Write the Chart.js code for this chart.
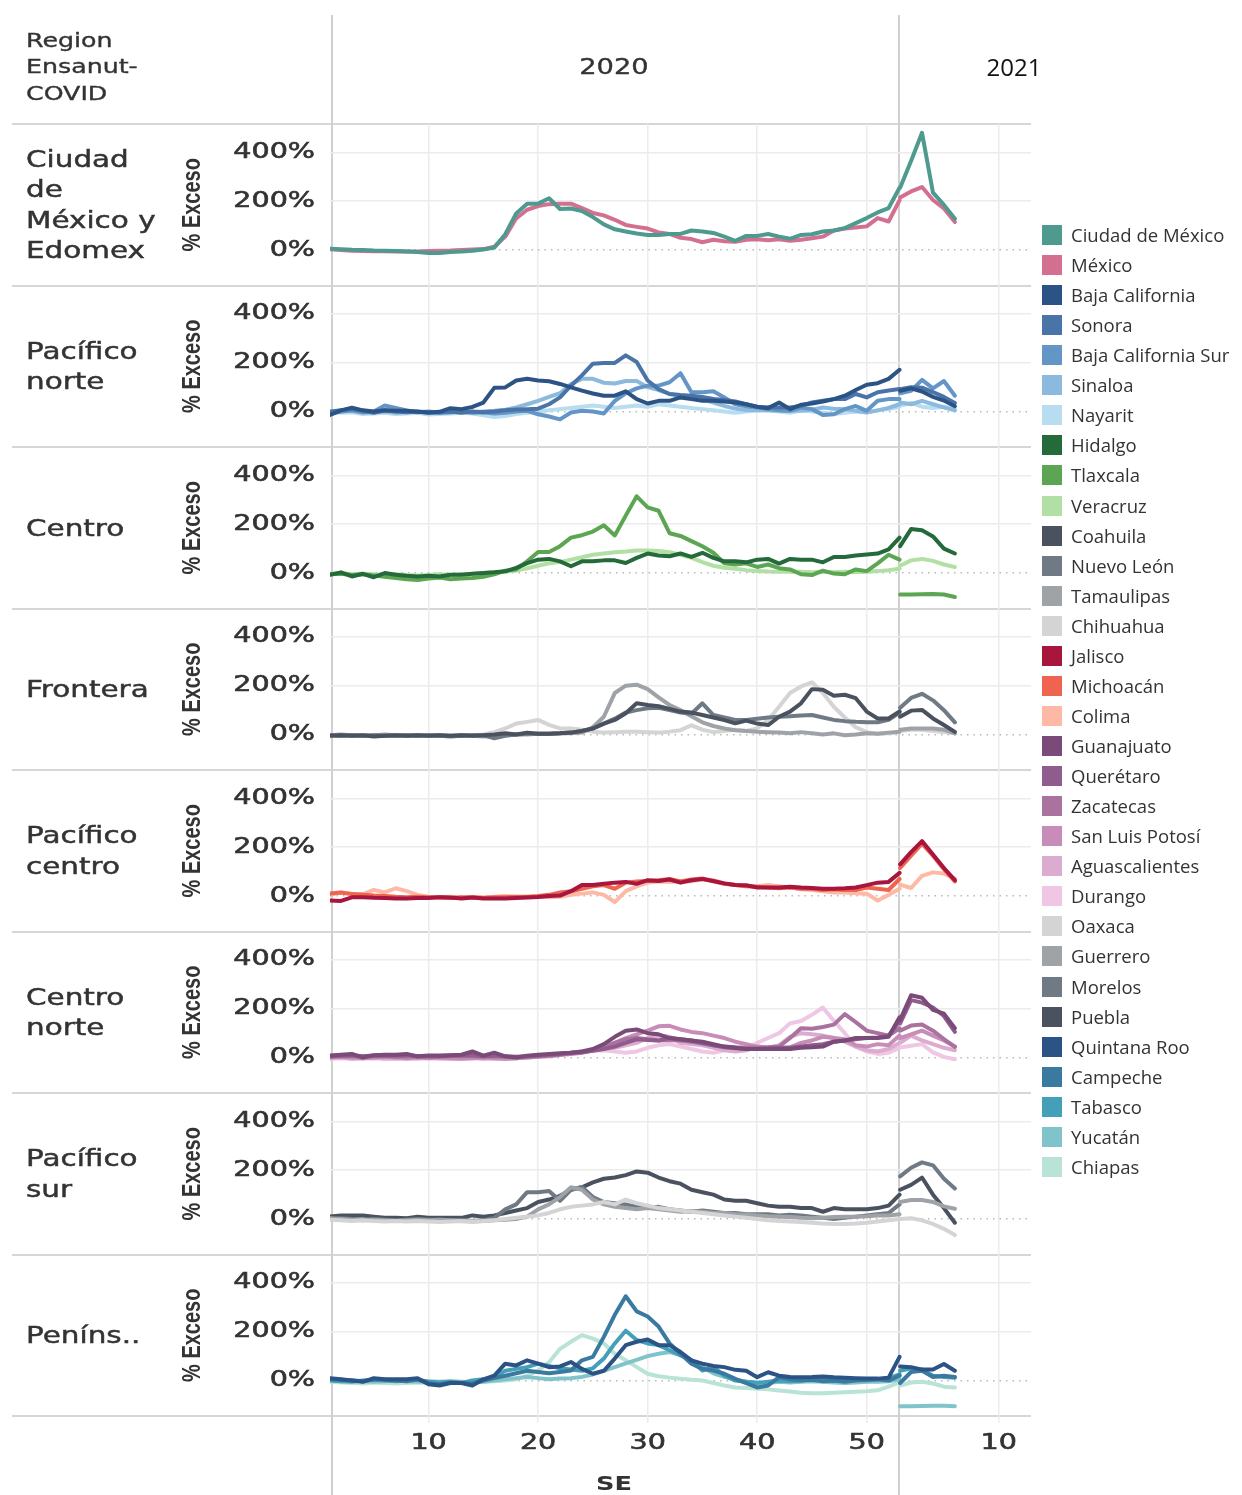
<!DOCTYPE html>
<html><head><meta charset="utf-8">
<script src="https://cdn.jsdelivr.net/npm/chart.js@4.4.1/dist/chart.umd.min.js"></script>
<style>
html,body{margin:0;padding:0;background:#fff;}
#wrap{position:relative;width:1242px;height:1495px;overflow:hidden;background:#fff;}
.hl{position:absolute;left:12px;width:1019px;height:2px;background:#d6d6d6;}
.vl{position:absolute;top:15px;height:1480px;width:2px;background:#d0d0d0;}
canvas{position:absolute;left:0;top:0;}
.txt{position:absolute;color:#333;white-space:nowrap;font-family:'DejaVu Sans',sans-serif;-webkit-text-stroke:0.35px #333;}
.rowlab{position:absolute;left:26px;height:161.5px;display:flex;align-items:center;}
.rowlab div{transform:scaleX(1.28);transform-origin:left center;font-size:23px;line-height:30.5px;color:#333;font-family:'DejaVu Sans',sans-serif;white-space:nowrap;-webkit-text-stroke:0.45px #333;}
.leg{position:absolute;left:1042px;height:20px;}
.leg .sw{position:absolute;left:0;top:0;width:20px;height:20px;}
.leg .lt{position:absolute;left:29px;top:-2px;font-family:'Open Sans',sans-serif;font-size:18.5px;line-height:24px;color:#333;white-space:nowrap;}
</style></head>
<body>
<div id="wrap">
  <div id="lines"></div>
  <canvas id="c" width="1242" height="1495"></canvas>
  <div class="txt" style="left:26px;top:26.75px;font-size:19px;line-height:26.5px;transform:scaleX(1.33);transform-origin:left top;">Region<br>Ensanut-<br>COVID</div>
  <div class="txt" style="left:514px;width:200px;text-align:center;top:54px;font-size:21px;line-height:26px;transform:scaleX(1.3);transform-origin:center;">2020</div>
  <div class="txt" style="left:954px;width:120px;text-align:center;top:52px;font-family:'Open Sans',sans-serif;font-size:24px;line-height:30px;color:#111;-webkit-text-stroke:0;">2021</div>
  <div class="txt" style="left:564px;width:100px;text-align:center;top:1470px;font-size:20px;line-height:26px;font-weight:bold;transform:scaleX(1.28);transform-origin:center;-webkit-text-stroke:0;">SE</div>
  <div id="rowlabels"></div>
  <div id="legend"></div>
</div>
<script>
// ---------- DATA ----------
const regionNames = [["Ciudad","de","México y","Edomex"],["Pacífico","norte"],["Centro"],["Frontera"],["Pacífico","centro"],["Centro","norte"],["Pacífico","sur"],["Peníns.."]];
const weeks2020 = [1,2,3,4,5,6,7,8,9,10,11,12,13,14,15,16,17,18,19,20,21,22,23,24,25,26,27,28,29,30,31,32,33,34,35,36,37,38,39,40,41,42,43,44,45,46,47,48,49,50,51,52,53];
const weeks2021 = [1,2,3,4,5,6];
const xTickWeeks2020 = [10,20,30,40,50];
const xTickWeeks2021 = [10];
const yTickValues = [0,200,400];

const stateNames = ["Ciudad de México","México","Baja California","Sonora","Baja California Sur","Sinaloa","Nayarit","Hidalgo","Tlaxcala","Veracruz","Coahuila","Nuevo León","Tamaulipas","Chihuahua","Jalisco","Michoacán","Colima","Guanajuato","Querétaro","Zacatecas","San Luis Potosí","Aguascalientes","Durango","Oaxaca","Guerrero","Morelos","Puebla","Quintana Roo","Campeche","Tabasco","Yucatán","Chiapas"];
const stateRegion = [0,0,1,1,1,1,1,2,2,2,3,3,3,3,4,4,4,5,5,5,5,5,5,6,6,6,6,7,7,7,7,7];
const stateColors = ["#4f9a8f","#d4708f","#2c5385","#4a74a7","#6396c6","#8cb9de","#b8dcf0","#246a3a","#5ba553","#b2dfa3","#4b525f","#6f7a84","#9fa3a7","#d4d4d4","#a8163d","#ee6450","#fdb9a6","#7a4a78","#8f5c8d","#a9729f","#c78db8","#dcabd0","#efc6e4","#d4d4d4","#9fa3a7","#6f7a84","#4b525f","#2c5385","#3a7aa0","#44a0b9","#80c3cb","#b8e3d6"];

const ciudadDeMexico2020 = [5,3,1,0,-2,-3,-4,-6,-8,-12,-12,-8,-6,-3,2,10,65,150,190,190,212,168,170,160,135,105,85,76,68,62,62,66,66,80,76,70,55,38,58,58,66,55,46,62,65,76,80,90,110,131,154,172,255];
const ciudadDeMexico2021 = [255,365,480,235,185,128];
const mexico2020 = [3,0,-3,-4,-5,-5,-6,-6,-6,-4,-3,-2,0,2,4,14,55,130,165,180,188,190,190,172,152,142,124,103,95,88,72,66,50,45,32,42,36,34,42,44,40,44,38,42,48,55,80,88,92,97,131,117,204];
const mexico2021 = [215,240,258,205,170,115];
const bajaCalifornia2020 = [-14,5,16,5,0,5,3,3,-1,-4,-1,14,10,19,37,97,99,127,134,127,124,113,99,86,74,65,65,83,51,33,44,44,58,51,44,44,41,37,30,20,14,37,10,28,33,41,51,65,88,110,116,134,171];
const bajaCalifornia2021 = [85,95,82,60,45,22];
const sonora2020 = [0,5,10,3,-5,5,0,-3,0,-5,-3,0,-5,0,-3,0,5,8,10,12,30,58,106,148,196,199,199,230,203,127,92,72,68,65,60,52,47,41,30,19,18,17,17,23,37,44,51,51,72,58,79,86,92];
const sonora2021 = [92,100,98,80,60,35];
const bajaCaliforniaSur2020 = [-5,0,5,-3,0,25,15,5,-3,0,-5,-3,0,-5,-3,-8,-5,0,3,-11,-20,-32,-4,3,0,-8,44,75,95,106,106,120,157,79,79,83,58,30,22,17,10,5,3,17,10,-14,-11,10,23,3,44,51,51];
const bajaCaliforniaSur2021 = [75,85,130,95,125,65];
const sinaloa2020 = [-3,0,3,-5,-3,0,-5,-3,0,-3,-5,-3,0,-3,0,3,8,17,30,44,60,75,113,134,134,118,115,125,125,100,88,72,65,58,51,37,23,12,6,6,5,3,3,3,8,17,12,10,3,-4,5,15,30];
const sinaloa2021 = [37,30,44,30,17,5];
const nayarit2020 = [-8,-5,-3,-10,-8,-5,-10,-8,-5,-12,-10,-8,-5,-8,-15,-22,-18,-10,-5,0,5,10,15,20,25,20,15,20,25,20,30,25,20,15,10,5,0,-5,0,3,5,0,-5,5,0,-5,-10,-5,0,-3,5,10,20];
const nayarit2021 = [25,35,20,15,20,10];
const hidalgo2020 = [-7,3,-14,-3,-17,0,-7,-11,-14,-11,-14,-7,-7,-3,0,3,7,21,41,55,58,48,28,48,48,52,52,41,62,80,72,69,80,66,83,62,48,48,44,55,58,39,58,55,55,44,66,66,72,76,80,97,145];
const hidalgo2021 = [110,180,175,150,100,80];
const tlaxcala2020 = [-5,-3,-8,-5,-10,-15,-20,-25,-28,-22,-18,-25,-22,-20,-15,-5,10,15,48,86,86,110,145,155,170,196,154,235,314,269,255,163,152,131,110,83,40,35,40,25,35,20,15,-5,-8,10,-2,-5,15,8,40,75,55];
const tlaxcala2021 = [-88,-88,-87,-86,-88,-98];
const veracruz2020 = [-3,0,-5,-3,-5,-8,-5,-8,-10,-8,-5,-8,-5,-3,0,3,5,10,20,30,40,45,55,65,75,80,85,88,92,92,90,85,75,62,45,30,22,18,12,8,6,5,5,5,3,5,3,5,3,5,8,12,18];
const veracruz2021 = [30,52,58,50,35,25];
const coahuila2020 = [-5,-3,-5,-3,-8,-5,-3,-5,-3,-5,-3,-5,-3,-5,-3,0,5,0,8,3,3,5,8,15,25,45,60,87,128,121,116,105,94,90,80,70,59,46,57,45,39,73,94,128,186,183,159,163,149,94,66,66,95];
const coahuila2021 = [73,98,101,66,39,11];
const nuevoLeon2020 = [-3,-5,-3,-5,-3,-5,-5,-3,-5,-3,-5,-8,-5,-3,-3,-15,-5,0,3,3,3,5,8,15,25,45,65,90,100,108,110,100,90,85,128,80,70,60,60,65,70,73,75,78,80,70,60,55,52,50,50,60,90];
const nuevoLeon2021 = [110,150,167,140,100,50];
const tamaulipas2020 = [-3,0,-3,-5,-3,0,-3,-5,-3,-5,-3,-5,-3,-5,-8,-5,-3,0,0,3,3,5,5,8,30,73,170,200,204,186,152,121,100,75,50,35,25,18,15,12,10,8,5,10,5,0,5,-3,0,5,3,8,12];
const tamaulipas2021 = [20,25,25,25,20,5];
const chihuahua2020 = [-3,-5,-3,-5,-3,-5,-3,-5,-3,-5,-3,-5,-3,-5,0,10,25,45,52,60,40,25,25,20,12,8,10,12,12,10,8,12,18,38,20,10,15,20,15,25,60,114,170,197,214,170,114,70,30,10,3,5,10];
const chihuahua2021 = [15,20,20,15,10,5];
const jalisco2020 = [-18,-20,-5,-5,-7,-8,-10,-10,-8,-8,-5,-6,-10,-6,-10,-10,-10,-8,-6,-4,0,2,20,45,45,50,55,58,50,65,62,68,55,65,70,62,52,45,44,35,35,35,38,35,33,30,30,32,35,45,55,58,95];
const jalisco2021 = [130,180,225,170,115,65];
const michoacan2020 = [10,15,8,5,2,0,-3,-5,-3,-5,-5,-8,-5,-5,-8,-5,-5,-3,-3,0,5,15,20,30,40,45,30,55,60,62,65,70,60,68,72,60,50,45,40,38,35,32,35,30,30,25,28,25,25,35,30,25,70];
const michoacan2021 = [115,165,215,165,110,60];
const colima2020 = [5,15,10,8,25,15,32,20,5,-3,-5,-3,-8,-5,-5,-3,0,-3,-5,-3,-5,-3,5,10,15,5,-25,20,40,55,60,58,62,60,70,65,52,45,42,40,45,40,35,28,25,20,15,15,12,10,-18,5,30];
const colima2021 = [47,33,83,97,92,72];
const guanajuato2020 = [8,12,15,0,10,12,12,15,5,8,8,10,12,25,8,20,5,0,8,12,15,18,20,25,35,55,85,110,115,100,95,80,75,70,65,55,45,40,35,35,35,35,35,40,42,45,65,70,80,80,80,85,165];
const guanajuato2021 = [155,255,245,195,180,120];
const queretaro2020 = [5,8,10,5,8,10,8,10,5,5,5,8,10,10,5,8,5,3,5,8,12,15,20,22,28,35,45,60,75,72,70,80,75,70,60,50,42,38,35,35,38,40,40,45,50,55,65,70,75,80,82,90,150];
const queretaro2021 = [140,235,225,205,170,105];
const zacatecas2020 = [3,5,5,3,5,5,3,5,3,3,3,5,5,5,3,5,3,0,3,5,8,12,18,22,30,45,60,75,80,75,70,72,70,65,58,50,45,42,40,40,42,45,80,120,118,125,135,178,145,110,100,90,120];
const zacatecas2021 = [110,131,135,110,76,44];
const sanLuisPotosi2020 = [0,3,0,-3,0,3,0,-3,0,-3,0,-3,-5,-3,0,-3,-5,-3,0,3,5,10,15,20,30,40,60,80,95,110,128,130,115,105,100,90,80,65,55,45,40,38,42,60,70,85,80,75,50,45,55,50,90];
const sanLuisPotosi2021 = [80,95,110,90,70,45];
const aguascalientes2020 = [-3,0,-5,-3,0,-5,-3,-5,-3,0,-3,-5,-3,0,-5,-3,-5,-3,0,3,8,12,20,25,30,35,40,50,60,80,90,85,60,55,50,40,30,25,30,45,40,50,85,100,95,90,80,65,45,30,25,35,60];
const aguascalientes2021 = [60,90,70,55,40,30];
const durango2020 = [-5,-3,-5,-3,-5,-3,-5,-3,-5,-3,-5,-3,-5,-3,-5,-3,-5,-3,0,5,10,15,20,25,28,30,25,20,25,40,50,55,45,35,25,20,30,40,35,60,80,100,140,150,175,205,150,100,45,25,15,20,40];
const durango2021 = [41,48,55,21,3,-7];
const oaxaca2020 = [-3,-5,-8,-5,-8,-10,-8,-10,-8,-10,-12,-10,-8,-10,-8,-5,0,5,10,15,25,40,50,55,60,70,60,80,65,55,45,40,35,30,25,20,15,10,5,0,-5,-8,-10,-12,-15,-18,-20,-20,-18,-15,-10,-5,0];
const oaxaca2021 = [0,3,-5,-20,-40,-65];
const guerrero2020 = [3,0,-3,-5,-3,-5,-8,-5,-3,-5,-3,-5,-8,-10,-8,-5,-3,0,10,40,60,90,130,120,80,60,50,45,40,45,40,35,30,32,30,25,25,20,18,15,12,10,8,5,3,5,8,10,10,12,15,15,20];
const guerrero2021 = [70,78,78,70,52,42];
const morelos2020 = [0,3,0,-3,0,-3,-5,-3,0,-3,-3,-5,-3,-8,-5,5,40,60,110,110,115,75,120,131,90,70,65,60,50,45,50,40,35,30,35,30,25,25,20,20,20,15,18,15,10,5,0,5,10,15,20,25,60];
const morelos2021 = [175,210,232,220,165,125];
const puebla2020 = [10,15,15,15,10,5,5,3,10,5,5,5,5,15,10,15,25,35,45,70,80,95,120,130,150,165,170,180,195,190,170,155,145,120,110,100,80,75,75,65,55,50,50,45,45,30,45,40,40,40,45,55,100];
const puebla2021 = [120,140,170,100,45,-15];
const quintanaRoo2020 = [10,5,0,-5,10,5,5,5,10,-15,-20,-10,-10,-20,5,20,69,62,83,69,55,58,76,48,28,40,90,145,159,168,145,145,117,83,69,60,55,44,40,14,34,20,15,14,15,17,14,12,10,8,8,12,97];
const quintanaRoo2021 = [58,55,45,45,68,40];
const campeche2020 = [5,3,0,-3,5,3,0,-3,5,-10,-15,-8,-10,-12,0,10,20,30,40,35,30,35,41,83,97,179,269,345,283,262,221,152,110,69,48,41,28,7,-10,-28,-20,14,5,0,3,-3,0,-5,0,3,5,0,20];
const campeche2021 = [-10,35,40,15,20,15];
const tabasco2020 = [0,-3,-5,0,3,0,-3,0,3,-5,-8,-5,-10,0,5,15,40,48,55,69,60,50,45,40,50,90,152,204,166,152,145,124,103,83,41,55,20,0,-5,-10,-5,0,-3,0,5,3,0,5,3,0,5,10,25];
const tabasco2021 = [40,50,45,20,15,12];
const yucatan2020 = [0,-3,0,-3,-5,-3,0,-3,-5,-3,-5,-3,-5,-8,-5,0,5,10,15,10,5,8,10,15,25,40,55,70,85,100,110,117,105,82,55,30,15,5,-5,-8,-10,-5,-8,-5,-3,-5,-8,-10,-8,-5,-5,-3,5];
const yucatan2021 = [-105,-105,-104,-103,-103,-105];
const chiapas2020 = [-5,-8,-10,-12,-8,-10,-12,-10,-8,-10,-12,-10,-8,-10,-5,-3,0,5,20,41,75,130,159,186,172,152,110,83,55,28,18,12,7,3,0,-10,-20,-28,-30,-33,-36,-41,-45,-50,-52,-52,-50,-48,-46,-44,-40,-25,-7];
const chiapas2021 = [-20,-8,-5,-12,-25,-28];

const series2020 = [ciudadDeMexico2020,mexico2020,bajaCalifornia2020,sonora2020,bajaCaliforniaSur2020,sinaloa2020,nayarit2020,hidalgo2020,tlaxcala2020,veracruz2020,coahuila2020,nuevoLeon2020,tamaulipas2020,chihuahua2020,jalisco2020,michoacan2020,colima2020,guanajuato2020,queretaro2020,zacatecas2020,sanLuisPotosi2020,aguascalientes2020,durango2020,oaxaca2020,guerrero2020,morelos2020,puebla2020,quintanaRoo2020,campeche2020,tabasco2020,yucatan2020,chiapas2020];
const series2021 = [ciudadDeMexico2021,mexico2021,bajaCalifornia2021,sonora2021,bajaCaliforniaSur2021,sinaloa2021,nayarit2021,hidalgo2021,tlaxcala2021,veracruz2021,coahuila2021,nuevoLeon2021,tamaulipas2021,chihuahua2021,jalisco2021,michoacan2021,colima2021,guanajuato2021,queretaro2021,zacatecas2021,sanLuisPotosi2021,aguascalientes2021,durango2021,oaxaca2021,guerrero2021,morelos2021,puebla2021,quintanaRoo2021,campeche2021,tabasco2021,yucatan2021,chiapas2021];

// ---------- LAYOUT ----------
const ROW_TOP = 124, ROW_H = 161.5, NROWS = regionNames.length;
const YEAR_SHIFT = 52.05;   // 2021 pane placed right after 2020 pane
const K = 1.33;             // horizontal text stretch of the original

const lines = document.getElementById('lines');
for (let r = 0; r <= NROWS; r++) {
  const d = document.createElement('div'); d.className = 'hl';
  d.style.top = (ROW_TOP + r * ROW_H - 1) + 'px'; lines.appendChild(d);
}
[330.5, 898].forEach(x => { const d = document.createElement('div'); d.className = 'vl'; d.style.left = x + 'px'; lines.appendChild(d); });
const rl = document.getElementById('rowlabels');
regionNames.forEach((parts, r) => {
  const box = document.createElement('div'); box.className = 'rowlab';
  box.style.top = (ROW_TOP + r * ROW_H) + 'px';
  const inner = document.createElement('div'); inner.innerHTML = parts.join('<br>');
  box.appendChild(inner); rl.appendChild(box);
});
const lg = document.getElementById('legend');
stateNames.forEach((n, i) => {
  const it = document.createElement('div'); it.className = 'leg';
  it.style.top = (225 + i * 30.06) + 'px';
  it.innerHTML = '<div class="sw" style="background:' + stateColors[i] + '"></div><div class="lt">' + n + '</div>';
  lg.appendChild(it);
});

// canvas text: horizontal stretch + slight weight, like the original
const canvas = document.getElementById('c');
const ctx = canvas.getContext('2d');
const origFill = ctx.fillText;
ctx.fillText = function (t, x, y, mw) {
  const m = this.getTransform();
  const px = m.a * x + m.c * y + m.e;
  this.save();
  this.setTransform(new DOMMatrix([K, 0, 0, 1, px * (1 - K), 0]).multiply(m));
  if (mw === undefined) origFill.call(this, t, x, y); else origFill.call(this, t, x, y, mw);
  if (!/bold/.test(this.font)) {
    this.strokeStyle = this.fillStyle; this.lineWidth = 0.6;
    if (mw === undefined) this.strokeText(t, x, y); else this.strokeText(t, x, y, mw);
  }
  this.restore();
};

const datasets = stateNames.map((name, i) => {
  const pts = weeks2020.map((w, k) => ({ x: w, y: series2020[i][k] }));
  pts.push({ x: YEAR_SHIFT + 0.97, y: null });
  weeks2021.forEach((w, k) => pts.push({ x: YEAR_SHIFT + w, y: series2021[i][k] }));
  return {
    label: name, data: pts, yAxisID: 'y' + stateRegion[i], xAxisID: 'x',
    borderColor: stateColors[i], backgroundColor: stateColors[i],
    borderWidth: 4, pointRadius: 0, tension: 0, spanGaps: false, fill: false,
    borderJoinStyle: 'round', borderCapStyle: 'round'
  };
});

const tickFont = { family: "'DejaVu Sans', sans-serif", size: 21.5 };
const scales = {
  x: {
    type: 'linear', position: 'bottom', min: 1, max: 65,
    afterBuildTicks: s => { s.ticks = xTickWeeks2020.concat(xTickWeeks2021.map(w => YEAR_SHIFT + w)).map(v => ({ value: v })); },
    afterFit: s => { s.height = 79; },
    ticks: { autoSkip: false, maxRotation: 0, font: tickFont, color: '#333', padding: 8,
      callback: v => v > 53 ? String(Math.round(v - YEAR_SHIFT)) : String(v) },
    grid: { color: '#ececec', lineWidth: 1.5, tickLength: 7, tickColor: '#ececec' },
    border: { display: false }
  }
};
for (let r = 0; r < NROWS; r++) {
  scales['y' + r] = {
    type: 'linear', position: 'left', stack: 'rows', stackWeight: 1, weight: NROWS - r,
    min: -145, max: 516,
    afterBuildTicks: s => { s.ticks = yTickValues.map(v => ({ value: v })); },
    afterFit: s => { s.width = 330; },
    ticks: { font: tickFont, color: '#333', padding: 15, callback: v => v + '%' },
    grid: { drawTicks: false, color: c => (c.tick && c.tick.value === 0) ? '#b8b8b8' : '#ececec', lineWidth: 1.5 },
    border: { display: false, dash: c => (c.tick && c.tick.value === 0) ? [1.5, 5] : [] },
    title: { display: true, text: '% Exceso', color: '#333',
      font: { family: "'Liberation Sans', Arial, sans-serif", size: 20, weight: 'bold' },
      padding: { top: 181, bottom: 0 } }
  };
}

new Chart(ctx, {
  type: 'line',
  data: { datasets },
  options: {
    responsive: false, animation: false, devicePixelRatio: 1,
    layout: { padding: { left: 0, right: 211, top: 124, bottom: 0 } },
    plugins: { legend: { display: false }, tooltip: { enabled: false } },
    scales
  }
});
</script>
</body></html>
